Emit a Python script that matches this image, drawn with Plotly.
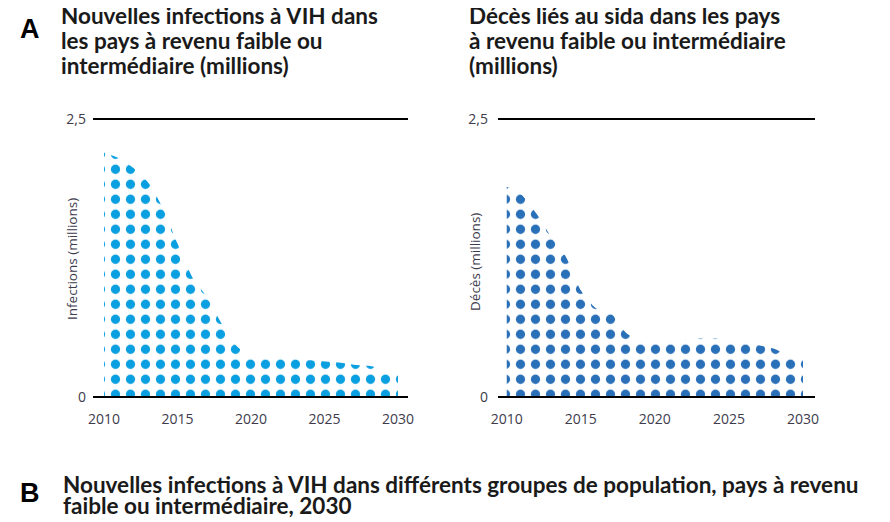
import plotly.graph_objects as go

# Values (millions)
years = list(range(2010, 2031))
infections = [2.20, 2.15, 2.06, 1.93, 1.70, 1.38, 1.08, 0.90, 0.66, 0.46, 0.36,
              0.34, 0.35, 0.34, 0.33, 0.32, 0.31, 0.29, 0.28, 0.25, 0.21]
deaths = [1.89, 1.82, 1.65, 1.44, 1.26, 0.96, 0.80, 0.76, 0.585, 0.495, 0.48,
          0.51, 0.515, 0.525, 0.525, 0.515, 0.495, 0.465, 0.435, 0.375, 0.345]

x_ticks = [2010, 2015, 2020, 2025, 2030]
y_ticks = [0, 2.5]
y_ticktext = ["0", "2,5"]

title_left = ["Nouvelles infections à VIH dans", "les pays à revenu faible ou",
              "intermédiaire (millions)"]
title_right = ["Décès liés au sida dans les pays", "à revenu faible ou intermédiaire",
               "(millions)"]
title_b = ["Nouvelles infections à VIH dans différents groupes de population, pays à revenu",
           "faible ou intermédiaire, 2030"]

LIGHT = "#0a9fe0"
DARK = "#2a70b9"

# the page body has an 8px margin, so the figure is drawn 8px in from the corner
OFF = 8
W, H = 890 - OFF, 522 - OFF


def px(x):
    return (x - OFF) / W


def py(y):
    return 1 - (y - OFF) / H


def dotted_area(x, y, color, xaxis, yaxis):
    return go.Scatter(
        x=x, y=y, xaxis=xaxis, yaxis=yaxis,
        mode="lines", line=dict(width=0, shape="spline", smoothing=0.6),
        fill="tozeroy", fillcolor="rgba(0,0,0,0)",
        fillpattern=dict(shape=".", size=15, solidity=0.3,
                         fgcolor=color, bgcolor="white", fgopacity=1),
        hoverinfo="x+y", showlegend=False,
    )


fig = go.Figure()
fig.add_trace(dotted_area(years, infections, LIGHT, "x", "y"))
fig.add_trace(dotted_area(years, deaths, DARK, "x2", "y2"))

axis_font = dict(family="Open Sans", size=14, color="#3d3b4c")
xcommon = dict(tickvals=x_ticks, showgrid=False, zeroline=False, showline=False,
               tickfont=axis_font, ticks="", ticklabelstandoff=10,
               automargin=False, fixedrange=True)
ycommon = dict(range=[-0.02, 2.52], tickvals=y_ticks, ticktext=y_ticktext,
               showgrid=False, zeroline=False, showline=False, tickfont=axis_font,
               ticks="", automargin=False, fixedrange=True)
ydomain = [py(399.2), py(116.8)]

fig.update_layout(
    template="none",
    width=W, height=H,
    margin=dict(l=0, r=0, t=0, b=0, pad=0, autoexpand=False),
    paper_bgcolor="white", plot_bgcolor="white",
    showlegend=False,
    xaxis=dict(domain=[px(93), px(408)], range=[2009.25, 2030.68], anchor="y", **xcommon),
    yaxis=dict(domain=ydomain, anchor="x", ticklabelstandoff=6, **ycommon),
    xaxis2=dict(domain=[px(498), px(815)], range=[2009.41, 2030.81], anchor="y2", **xcommon),
    yaxis2=dict(domain=ydomain, anchor="x2", ticklabelstandoff=9, **ycommon),
)

# black rules at 0 and 2,5 drawn over the dots
for xr, yr in (("x", "y"), ("x2", "y2")):
    for v in y_ticks:
        fig.add_shape(type="line", xref=f"{xr} domain", yref=yr, x0=0, x1=1, y0=v, y1=v,
                      line=dict(color="black", width=1.8), layer="above")

title_font = dict(family="Lato", size=22.5, color="#1a1a1a", weight="bold")
letter_font = dict(family="Liberation Sans", size=27, color="black", weight="bold")
label_font = dict(family="Open Sans", size=13.5, color="#3d3b4c")
annotations = [
    dict(text="A", x=px(30), y=py(29), font=letter_font),
    dict(text="B", x=px(30), y=py(493), font=letter_font),
    dict(text="Infections (millions)", x=px(72), y=py(259), textangle=-90, font=label_font),
    dict(text="Décès (millions)", x=px(475), y=py(262), textangle=-90, font=label_font),
]
for i, line in enumerate(title_left):
    annotations.append(dict(text=line, x=px(59), y=py(16 + 24.5 * i),
                            xanchor="left", font=title_font))
for i, line in enumerate(title_right):
    annotations.append(dict(text=line, x=px(467), y=py(16 + 24.5 * i),
                            xanchor="left", font=title_font))
for i, line in enumerate(title_b):
    annotations.append(dict(text=line, x=px(61), y=py(484 + 21.5 * i),
                            xanchor="left", font=title_font))

for a in annotations:
    a.setdefault("xanchor", "center")
    a.setdefault("yanchor", "middle")
    fig.add_annotation(xref="paper", yref="paper", showarrow=False, **a)

fig.write_html("out.html")
